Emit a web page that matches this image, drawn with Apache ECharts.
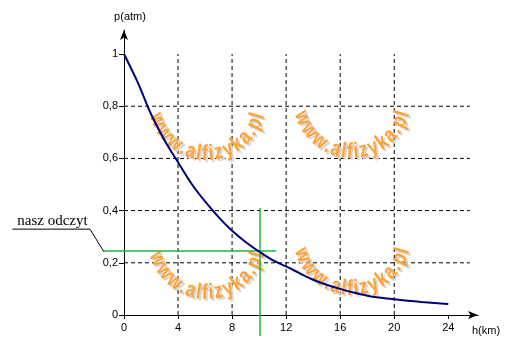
<!DOCTYPE html>
<html><head><meta charset="utf-8">
<script src="https://cdn.jsdelivr.net/npm/echarts@6/dist/echarts.min.js"></script>
<style>html,body{margin:0;padding:0;background:#fff}#c{width:510px;height:354px}</style>
</head><body><div id="c"></div>
<script>
// ---- data ----
var xTicks = [0, 4, 8, 12, 16, 20, 24];
var yTicks = [0, 0.2, 0.4, 0.6, 0.8, 1];
var heights = [0,1,2,3,4,5,6,7,8,9,10,11,12,13,14,15,16,17,18,19,20,21,22,23,24];
var pressure = [1,0.893,0.77,0.67,0.585,0.503,0.435,0.375,0.323,0.28,0.243,0.21,0.186,0.16,0.135,0.116,0.1,0.086,0.074,0.066,0.06,0.055,0.05,0.046,0.042];
var gridX = [4, 8, 12, 16, 20];
var gridY = [0.2, 0.4, 0.6, 0.8];
var readH = 10.07;
var readP = 0.245;
var readLabel = 'nasz odczyt';
var watermark = 'www.alfizyka.pl';

var chart = echarts.init(document.getElementById('c'), null, {renderer: 'canvas'});
var series = [];
gridX.forEach(function (x) {
  series.push({type: 'line', data: [[x, 0], [x, 1]], symbol: 'none', silent: true, z: 1,
    lineStyle: {color: '#000', width: 1, type: [4, 3]}});
});
gridY.forEach(function (y) {
  series.push({type: 'line', data: [[0, y], [25.6, y]], symbol: 'none', silent: true, z: 1,
    lineStyle: {color: '#000', width: 1, type: [4, 3]}});
});
series.push({type: 'line', data: heights.map(function (h, i) { return [h, pressure[i]]; }),
  symbol: 'none', smooth: 0.3, z: 4, lineStyle: {color: '#00007f', width: 2}});

var option = {
  animation: false,
  backgroundColor: '#fff',
  grid: {left: 124, right: 32, top: 30, bottom: 39, containLabel: false},
  xAxis: {type: 'value', min: 0, max: 26.2, interval: 4,
    axisLine: {lineStyle: {color: '#000', width: 1}, symbol: ['none', 'arrow'], symbolSize: [6, 10]},
    axisTick: {show: true, length: 4, lineStyle: {color: '#000'}, customValues: xTicks},
    axisLabel: {color: '#000', fontSize: 11, fontFamily: 'Liberation Sans', margin: 7, customValues: xTicks},
    splitLine: {show: false}},
  yAxis: {type: 'value', min: 0, max: 1.092, interval: 0.2,
    axisLine: {show: true, lineStyle: {color: '#000', width: 1}, symbol: ['none', 'arrow'], symbolSize: [6, 10]},
    axisTick: {show: true, length: 5, lineStyle: {color: '#000'}, customValues: yTicks},
    axisLabel: {color: '#000', fontSize: 11, fontFamily: 'Liberation Sans', margin: 6, customValues: yTicks,
      formatter: function (v) { return String(Math.round(v * 10) / 10).replace('.', ','); }},
    splitLine: {show: false}},
  series: series
};
chart.setOption(option);

function px(p) { return chart.convertToPixel({gridIndex: 0}, p); }

var graphics = [];
// watermark (curved text)
var font = 'bold 22px "Liberation Sans"';
var sx = 0.8, gap = 0.8, r = 53;
var ctx = document.createElement('canvas').getContext('2d');
ctx.font = font;
var widths = watermark.split('').map(function (ch) { return ctx.measureText(ch).width * sx + gap; });
var total = widths.reduce(function (a, b) { return a + b; }, 0);
var centers = [[207, 101], [352, 99], [207, 240], [352, 236]];
centers.forEach(function (c) {
  var acc = 0;
  var start = 90 + (total / r) * 180 / Math.PI / 2;
  for (var i = 0; i < watermark.length; i++) {
    var mid = acc + widths[i] / 2;
    acc += widths[i];
    var th = (start - (mid / r) * 180 / Math.PI) * Math.PI / 180;
    var x = c[0] + r * Math.cos(th), y = c[1] + r * Math.sin(th);
    var rot = Math.PI / 2 - th;
    graphics.push({type: 'text', x: x + 2, y: y + 2, rotation: rot, scaleX: sx, z: 2, silent: true,
      style: {text: watermark[i], font: font, fill: '#d6d6d6', align: 'center', verticalAlign: 'middle'}});
    graphics.push({type: 'text', x: x, y: y, rotation: rot, scaleX: sx, z: 2, silent: true,
      style: {text: watermark[i], font: font, fill: '#ffa236', align: 'center', verticalAlign: 'middle'}});
  }
});
// reading lines
var gl1 = px([-1.48, readP]), gl2 = px([11.26, readP]);
var gv1 = px([readH, -0.08]), gv2 = px([readH, 0.41]);
graphics.push({type: 'polyline', z: 3, silent: true, shape: {points: [gl1, gl2]}, style: {stroke: '#22b443', lineWidth: 1.5, fill: null}});
graphics.push({type: 'polyline', z: 3, silent: true, shape: {points: [gv1, gv2]}, style: {stroke: '#22b443', lineWidth: 1.5, fill: null}});
var lead = [px([-1.48, readP - 0.003]), px([-2.52, 0.329]), px([-8.26, 0.329])];
graphics.push({type: 'polyline', z: 3, silent: true, shape: {points: lead}, style: {stroke: '#000', lineWidth: 1, fill: null}});
graphics.push({type: 'text', x: 52.5, y: 221, z: 5, style: {text: readLabel, font: '15px "Liberation Serif"', fill: '#000', align: 'center', verticalAlign: 'middle'}});
graphics.push({type: 'text', x: 130, y: 17, z: 5, style: {text: 'p(atm)', font: '11px "Liberation Sans"', fill: '#000', align: 'center', verticalAlign: 'middle'}});
graphics.push({type: 'text', x: 486, y: 331, z: 5, style: {text: 'h(km)', font: '11px "Liberation Sans"', fill: '#000', align: 'center', verticalAlign: 'middle'}});

chart.setOption({graphic: graphics});
</script></body></html>
